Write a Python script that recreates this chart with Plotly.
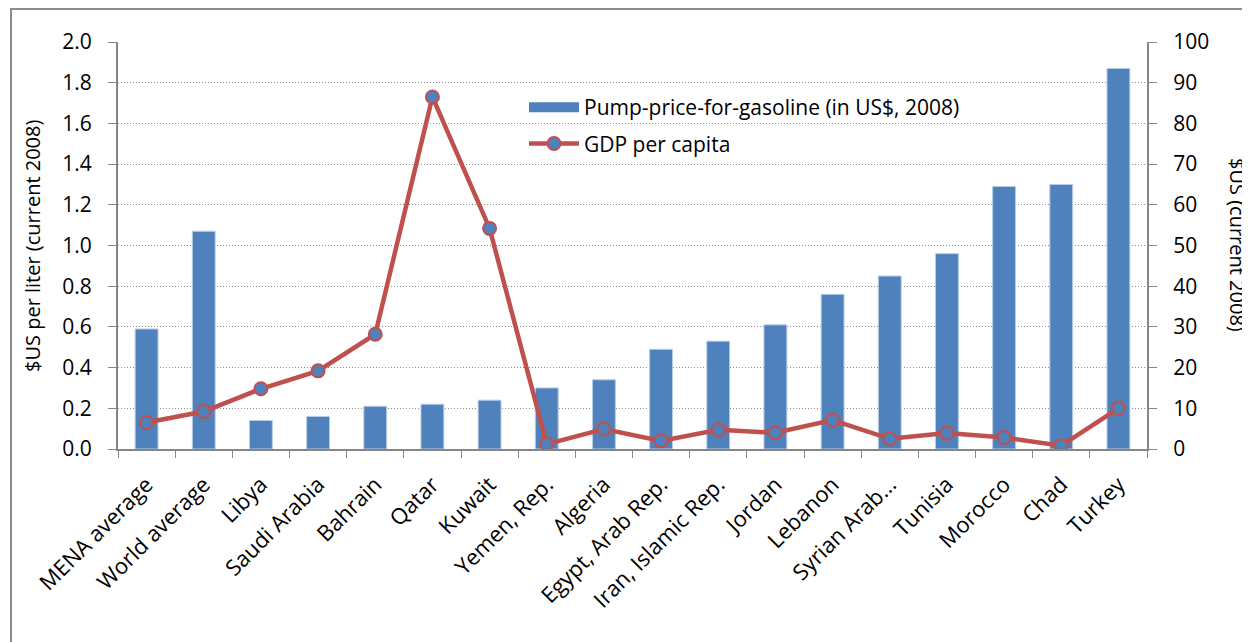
import plotly.graph_objects as go

categories = ["MENA average", "World average", "Libya", "Saudi Arabia", "Bahrain", "Qatar",
              "Kuwait", "Yemen, Rep.", "Algeria", "Egypt, Arab Rep.", "Iran, Islamic Rep.",
              "Jordan", "Lebanon", "Syrian Arab...", "Tunisia", "Morocco", "Chad", "Turkey"]
pump_price = [0.59, 1.07, 0.14, 0.16, 0.21, 0.22, 0.24, 0.30, 0.34, 0.49, 0.53, 0.61,
              0.76, 0.85, 0.96, 1.29, 1.30, 1.87]
gdp_per_capita = [6.5, 9.2, 14.8, 19.2, 28.2, 86.5, 54.2, 1.2, 4.9, 2.0, 4.7, 4.0,
                  7.1, 2.5, 3.9, 2.8, 0.8, 10.0]

BAR_NAME = "Pump-price-for-gasoline (in US$, 2008)"
LINE_NAME = "GDP per capita"
BLUE = "#4F81BD"
RED = "#C0504D"

FONT = "Open Sans"
FS = 21
# the page body has an 8px margin, so the figure starts at (8, 8) on screen
OFF = 8
W, H = 1242, 634
L, R, T, B = 118 - OFF, 1242 - (1147 - OFF), 42 - OFF, 634 - (449 - OFF)

fig = go.Figure()
fig.add_trace(go.Bar(
    x=categories, y=pump_price, name=BAR_NAME,
    marker=dict(color=BLUE, line=dict(color="#B9CDE5", width=1)),
    width=0.4, yaxis="y", showlegend=False))
# legend-only entry so the bar swatch is drawn as a wide block, like the original
fig.add_trace(go.Scatter(
    x=[None], y=[None], name=BAR_NAME, mode="lines",
    line=dict(color=BLUE, width=14), yaxis="y", legendrank=1, legendgroup="a"))
fig.add_trace(go.Scatter(
    x=categories, y=gdp_per_capita, name=LINE_NAME, mode="lines+markers",
    line=dict(color=RED, width=4.5),
    marker=dict(size=13, color=BLUE, line=dict(color=RED, width=2)),
    yaxis="y2", legendrank=2, legendgroup="b"))

pw = W - L - R
ph = H - T - B

def px_x(x):
    return (x - OFF - L) / pw

def px_y(y):
    return (H - B - (y - OFF)) / ph

fig.update_layout(
    width=W, height=H,
    margin=dict(l=L, r=R, t=T, b=B, autoexpand=False),
    paper_bgcolor="white", plot_bgcolor="white",
    font=dict(family=FONT, size=FS, color="black"),
    showlegend=True,
    legend=dict(x=px_x(524), y=px_y(87), xanchor="left", yanchor="top",
                bgcolor="rgba(0,0,0,0)", font=dict(size=FS, family=FONT),
                itemwidth=50, traceorder="grouped", tracegroupgap=6),
    xaxis=dict(type="category", range=[-0.5, 17.5], tickangle=-45,
               showline=True, linecolor="#868686", linewidth=2,
               ticks="outside", ticklen=7, tickcolor="#868686", tickwidth=1,
               tickson="boundaries", showgrid=False, ticklabelstandoff=12,
               tickfont=dict(size=22, family=FONT)),
    yaxis=dict(range=[0, 2.0], dtick=0.2, tickformat=".1f",
               showline=True, linecolor="#868686", linewidth=2,
               ticks="outside", ticklen=8, tickcolor="#868686",
               showgrid=True, gridcolor="#8C8C8C", griddash="1px,2px", gridwidth=1,
               zeroline=False, ticklabelstandoff=12,
               tickfont=dict(size=FS, family=FONT)),
    yaxis2=dict(range=[0, 100], dtick=10, overlaying="y", side="right",
                showline=True, linecolor="#868686", linewidth=2,
                ticks="outside", ticklen=8, tickcolor="#868686",
                showgrid=False, zeroline=False, ticklabelstandoff=12,
                tickfont=dict(size=FS, family=FONT)),
    annotations=[
        dict(text="$US per liter (current 2008)", xref="paper", yref="paper",
             x=px_x(33), y=px_y(246), textangle=-90, showarrow=False,
             font=dict(size=20, family=FONT), xanchor="center", yanchor="middle"),
        dict(text="$US (current 2008)", xref="paper", yref="paper",
             x=px_x(1237), y=px_y(245), textangle=90, showarrow=False,
             font=dict(size=20, family=FONT), xanchor="center", yanchor="middle"),
    ],
    shapes=[
        dict(type="rect", xref="paper", yref="paper",
             x0=px_x(11), x1=px_x(1270), y0=px_y(670), y1=px_y(9),
             line=dict(color="#8C8C8C", width=2), fillcolor="rgba(0,0,0,0)", layer="below"),
    ],
)

fig.write_html("out.html")
